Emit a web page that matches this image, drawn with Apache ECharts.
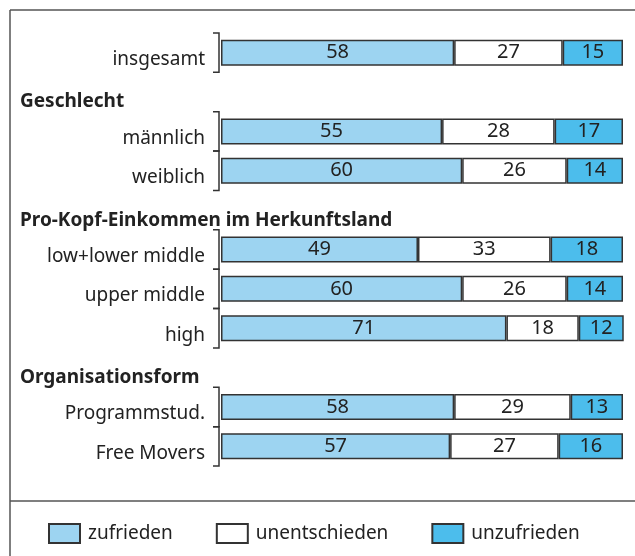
<!DOCTYPE html>
<html>
<head>
<meta charset="utf-8">
<script src="https://cdn.jsdelivr.net/npm/echarts@6/dist/echarts.min.js"></script>
<style>
  html, body { margin: 0; padding: 0; background: #fff; }
  #chart { width: 635px; height: 556px; }
</style>
</head>
<body>
<div id="chart"></div>
<script>
// rows top to bottom; group headings sit in their own (empty) rows
const categories = [
  "insgesamt",
  "Geschlecht", "männlich", "weiblich",
  "Pro-Kopf-Einkommen im Herkunftsland", "low+lower middle", "upper middle", "high",
  "Organisationsform", "Programmstud.", "Free Movers"
];
const headers = ["Geschlecht", "Pro-Kopf-Einkommen im Herkunftsland", "Organisationsform"];

const zufrieden     = [58, null, 55, 60, null, 49, 60, 71, null, 58, 57];
const unentschieden = [27, null, 28, 26, null, 33, 26, 18, null, 29, 27];
const unzufrieden   = [15, null, 17, 14, null, 18, 14, 12, null, 13, 16];

const FONT = "Noto Sans";
const INK = "#222";

const chart = echarts.init(document.getElementById("chart"));

const barSeries = (name, data, color) => ({
  name,
  type: "bar",
  stack: "total",
  data,
  barWidth: 26,
  itemStyle: { color, borderColor: "#333", borderWidth: 1.5 },
  label: {
    show: true,
    position: "inside",
    color: INK,
    fontFamily: FONT,
    fontSize: 20,
  },
});

// bracket pieces on the left of each data row
const bracketData = categories
  .map((c, i) => (headers.includes(c) ? null : [0, i]))
  .filter((d) => d);

chart.setOption({
  animation: false,
  textStyle: { fontFamily: FONT },
  grid: { left: 221, right: 12, top: 33, bottom: 90 },
  xAxis: { type: "value", min: 0, max: 100, show: false },
  yAxis: {
    type: "category",
    data: categories,
    inverse: true,
    axisLine: { show: false },
    axisTick: { show: false },
    axisLabel: {
      color: INK,
      fontSize: 19,
      fontFamily: FONT,
      margin: 16,
      verticalAlign: "top",
      lineHeight: 14,
      formatter: (v) => (headers.includes(v) ? "" : v),
    },
  },
  legend: {
    data: ["zufrieden", "unentschieden", "unzufrieden"],
    left: 48,
    top: 523,
    padding: 0,
    icon: "rect",
    itemWidth: 31,
    itemHeight: 19,
    itemGap: 43,
    textStyle: { color: INK, fontSize: 19, fontFamily: FONT, padding: [0, 0, 0, 3] },
  },
  series: [
    barSeries("zufrieden", zufrieden, "#9dd4f1"),
    barSeries("unentschieden", unentschieden, "#ffffff"),
    barSeries("unzufrieden", unzufrieden, "#4cbdec"),
    {
      type: "custom",
      silent: true,
      data: bracketData,
      encode: { x: 0, y: 1 },
      renderItem: (params, api) => {
        const p = api.coord([0, api.value(1)]);
        const h = api.size([0, 1])[1];
        const x = p[0] - 2;
        return {
          type: "polyline",
          shape: {
            points: [
              [x - 6, p[1] - h / 2],
              [x, p[1] - h / 2],
              [x, p[1] + h / 2],
              [x - 6, p[1] + h / 2],
            ],
          },
          style: { stroke: "#333", lineWidth: 1.5, fill: null },
        };
      },
    },
  ],
});

// frame, divider and group headings
const headerText = headers.map((h) => ({
  type: "text",
  x: 20,
  y: chart.convertToPixel({ yAxisIndex: 0 }, h) + 10,
  style: {
    text: h,
    fill: INK,
    font: "bold 19px '" + FONT + "'",
    verticalAlign: "middle",
  },
}));

chart.setOption({
  graphic: [
    { type: "line", shape: { x1: 10, y1: 10, x2: 635, y2: 10 }, style: { stroke: "#555", lineWidth: 1.5 } },
    { type: "line", shape: { x1: 10, y1: 10, x2: 10, y2: 556 }, style: { stroke: "#555", lineWidth: 1.5 } },
    { type: "line", shape: { x1: 10, y1: 501, x2: 635, y2: 501 }, style: { stroke: "#555", lineWidth: 1.5 } },
    ...headerText,
  ],
});
</script>
</body>
</html>
